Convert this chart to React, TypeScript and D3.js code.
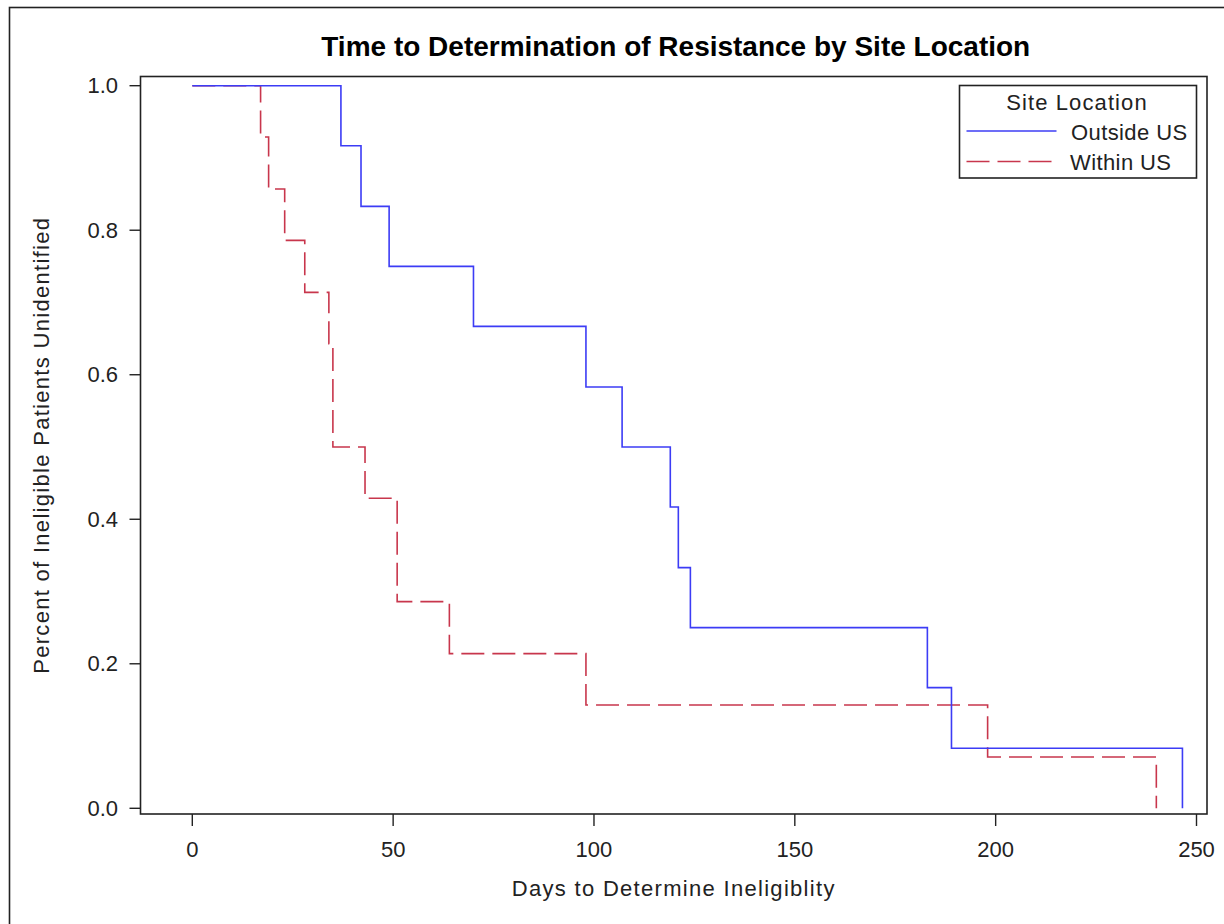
import React from "react";
import * as d3 from "d3";

const outsideDays = [0, 37, 42, 49, 70, 98, 107, 119, 121, 124, 183, 189, 246.5];
const outsideSurv = [1.0, 0.917, 0.833, 0.75, 0.667, 0.583, 0.5, 0.417, 0.333, 0.25, 0.167, 0.083, 0.0];
const withinDays = [0, 17, 19, 23, 28, 34, 35, 43, 51, 64, 98, 198, 240];
const withinSurv = [1.0, 0.929, 0.857, 0.786, 0.714, 0.643, 0.5, 0.429, 0.286, 0.214, 0.143, 0.071, 0.0];
const xTicks = [0, 50, 100, 150, 200, 250];
const yTicks = [0.0, 0.2, 0.4, 0.6, 0.8, 1.0];
const seriesNames = ["Outside US", "Within US"];

const BLUE = "#3c3cf5";
const RED = "#c8364c";
const FONT = "'Liberation Sans', Arial, sans-serif";

export default function App() {
  const W = 1224, H = 924;
  const frame = { left: 140.5, top: 76.5, right: 1207, bottom: 814 };
  const x = d3.scaleLinear().domain([0, 250]).range([192.3, 1196.5]);
  const y = d3.scaleLinear().domain([0, 1]).range([808.3, 85.7]);
  const line = d3
    .line<[number, number]>()
    .x((d) => x(d[0]))
    .y((d) => y(d[1]))
    .curve(d3.curveStepAfter);
  const outside: [number, number][] = outsideDays.map((d, i) => [d, outsideSurv[i]]);
  const within: [number, number][] = withinDays.map((d, i) => [d, withinSurv[i]]);
  const plotCx = (frame.left + frame.right) / 2;

  return (
    <svg
      width={W}
      height={H}
      style={{ position: "absolute", left: 0, top: 0, background: "#fff" }}
      fontFamily={FONT}
    >
      <rect x={0} y={0} width={W} height={H} fill="#fff" />
      {/* outer frame */}
      <rect x={9.5} y={7.5} width={W + 20} height={H + 20} fill="none" stroke="#222" strokeWidth={1.6} />
      {/* title */}
      <text x={plotCx + 2} y={56} textAnchor="middle" fontSize={28} fontWeight="bold" fill="#000">
        Time to Determination of Resistance by Site Location
      </text>
      {/* plot frame */}
      <rect
        x={frame.left}
        y={frame.top}
        width={frame.right - frame.left}
        height={frame.bottom - frame.top}
        fill="none"
        stroke="#222"
        strokeWidth={1.6}
      />
      {/* y ticks */}
      {yTicks.map((t) => (
        <g key={"y" + t}>
          <line x1={frame.left} x2={frame.left - 11} y1={y(t)} y2={y(t)} stroke="#222" strokeWidth={1.4} />
          <text x={118} y={y(t) + 7.5} textAnchor="end" fontSize={22} fill="#222">
            {t.toFixed(1)}
          </text>
        </g>
      ))}
      {/* x ticks */}
      {xTicks.map((t) => (
        <g key={"x" + t}>
          <line x1={x(t)} x2={x(t)} y1={frame.bottom} y2={frame.bottom + 12} stroke="#222" strokeWidth={1.4} />
          <text x={x(t)} y={856.5} textAnchor="middle" fontSize={22} fill="#222">
            {t}
          </text>
        </g>
      ))}
      {/* axis labels */}
      <text x={plotCx} y={896} textAnchor="middle" fontSize={22} letterSpacing={1.3} fill="#222">
        Days to Determine Ineligiblity
      </text>
      <text
        transform={`translate(49, ${(frame.top + frame.bottom) / 2}) rotate(-90)`}
        textAnchor="middle"
        fontSize={22}
        letterSpacing={1.3}
        fill="#222"
      >
        Percent of Ineligible Patients Unidentified
      </text>
      {/* curves */}
      <path d={line(within) || ""} fill="none" stroke={RED} strokeWidth={1.6} strokeDasharray="23 8" />
      <path d={line(outside) || ""} fill="none" stroke={BLUE} strokeWidth={1.6} />
      {/* legend */}
      <g>
        <rect x={959.5} y={85.5} width={237} height={92.5} fill="#fff" stroke="#222" strokeWidth={1.6} />
        <text x={1077} y={110} textAnchor="middle" fontSize={22} letterSpacing={1.1} fill="#222">
          Site Location
        </text>
        <line x1={966.5} x2={1056.5} y1={131} y2={131} stroke={BLUE} strokeWidth={1.6} />
        <text x={1071} y={140} fontSize={22} letterSpacing={0.4} fill="#222">
          {seriesNames[0]}
        </text>
        <line x1={966.5} x2={1056.5} y1={161.5} y2={161.5} stroke={RED} strokeWidth={1.6} strokeDasharray="23 8" />
        <text x={1070} y={170} fontSize={22} letterSpacing={0.4} fill="#222">
          {seriesNames[1]}
        </text>
      </g>
    </svg>
  );
}
